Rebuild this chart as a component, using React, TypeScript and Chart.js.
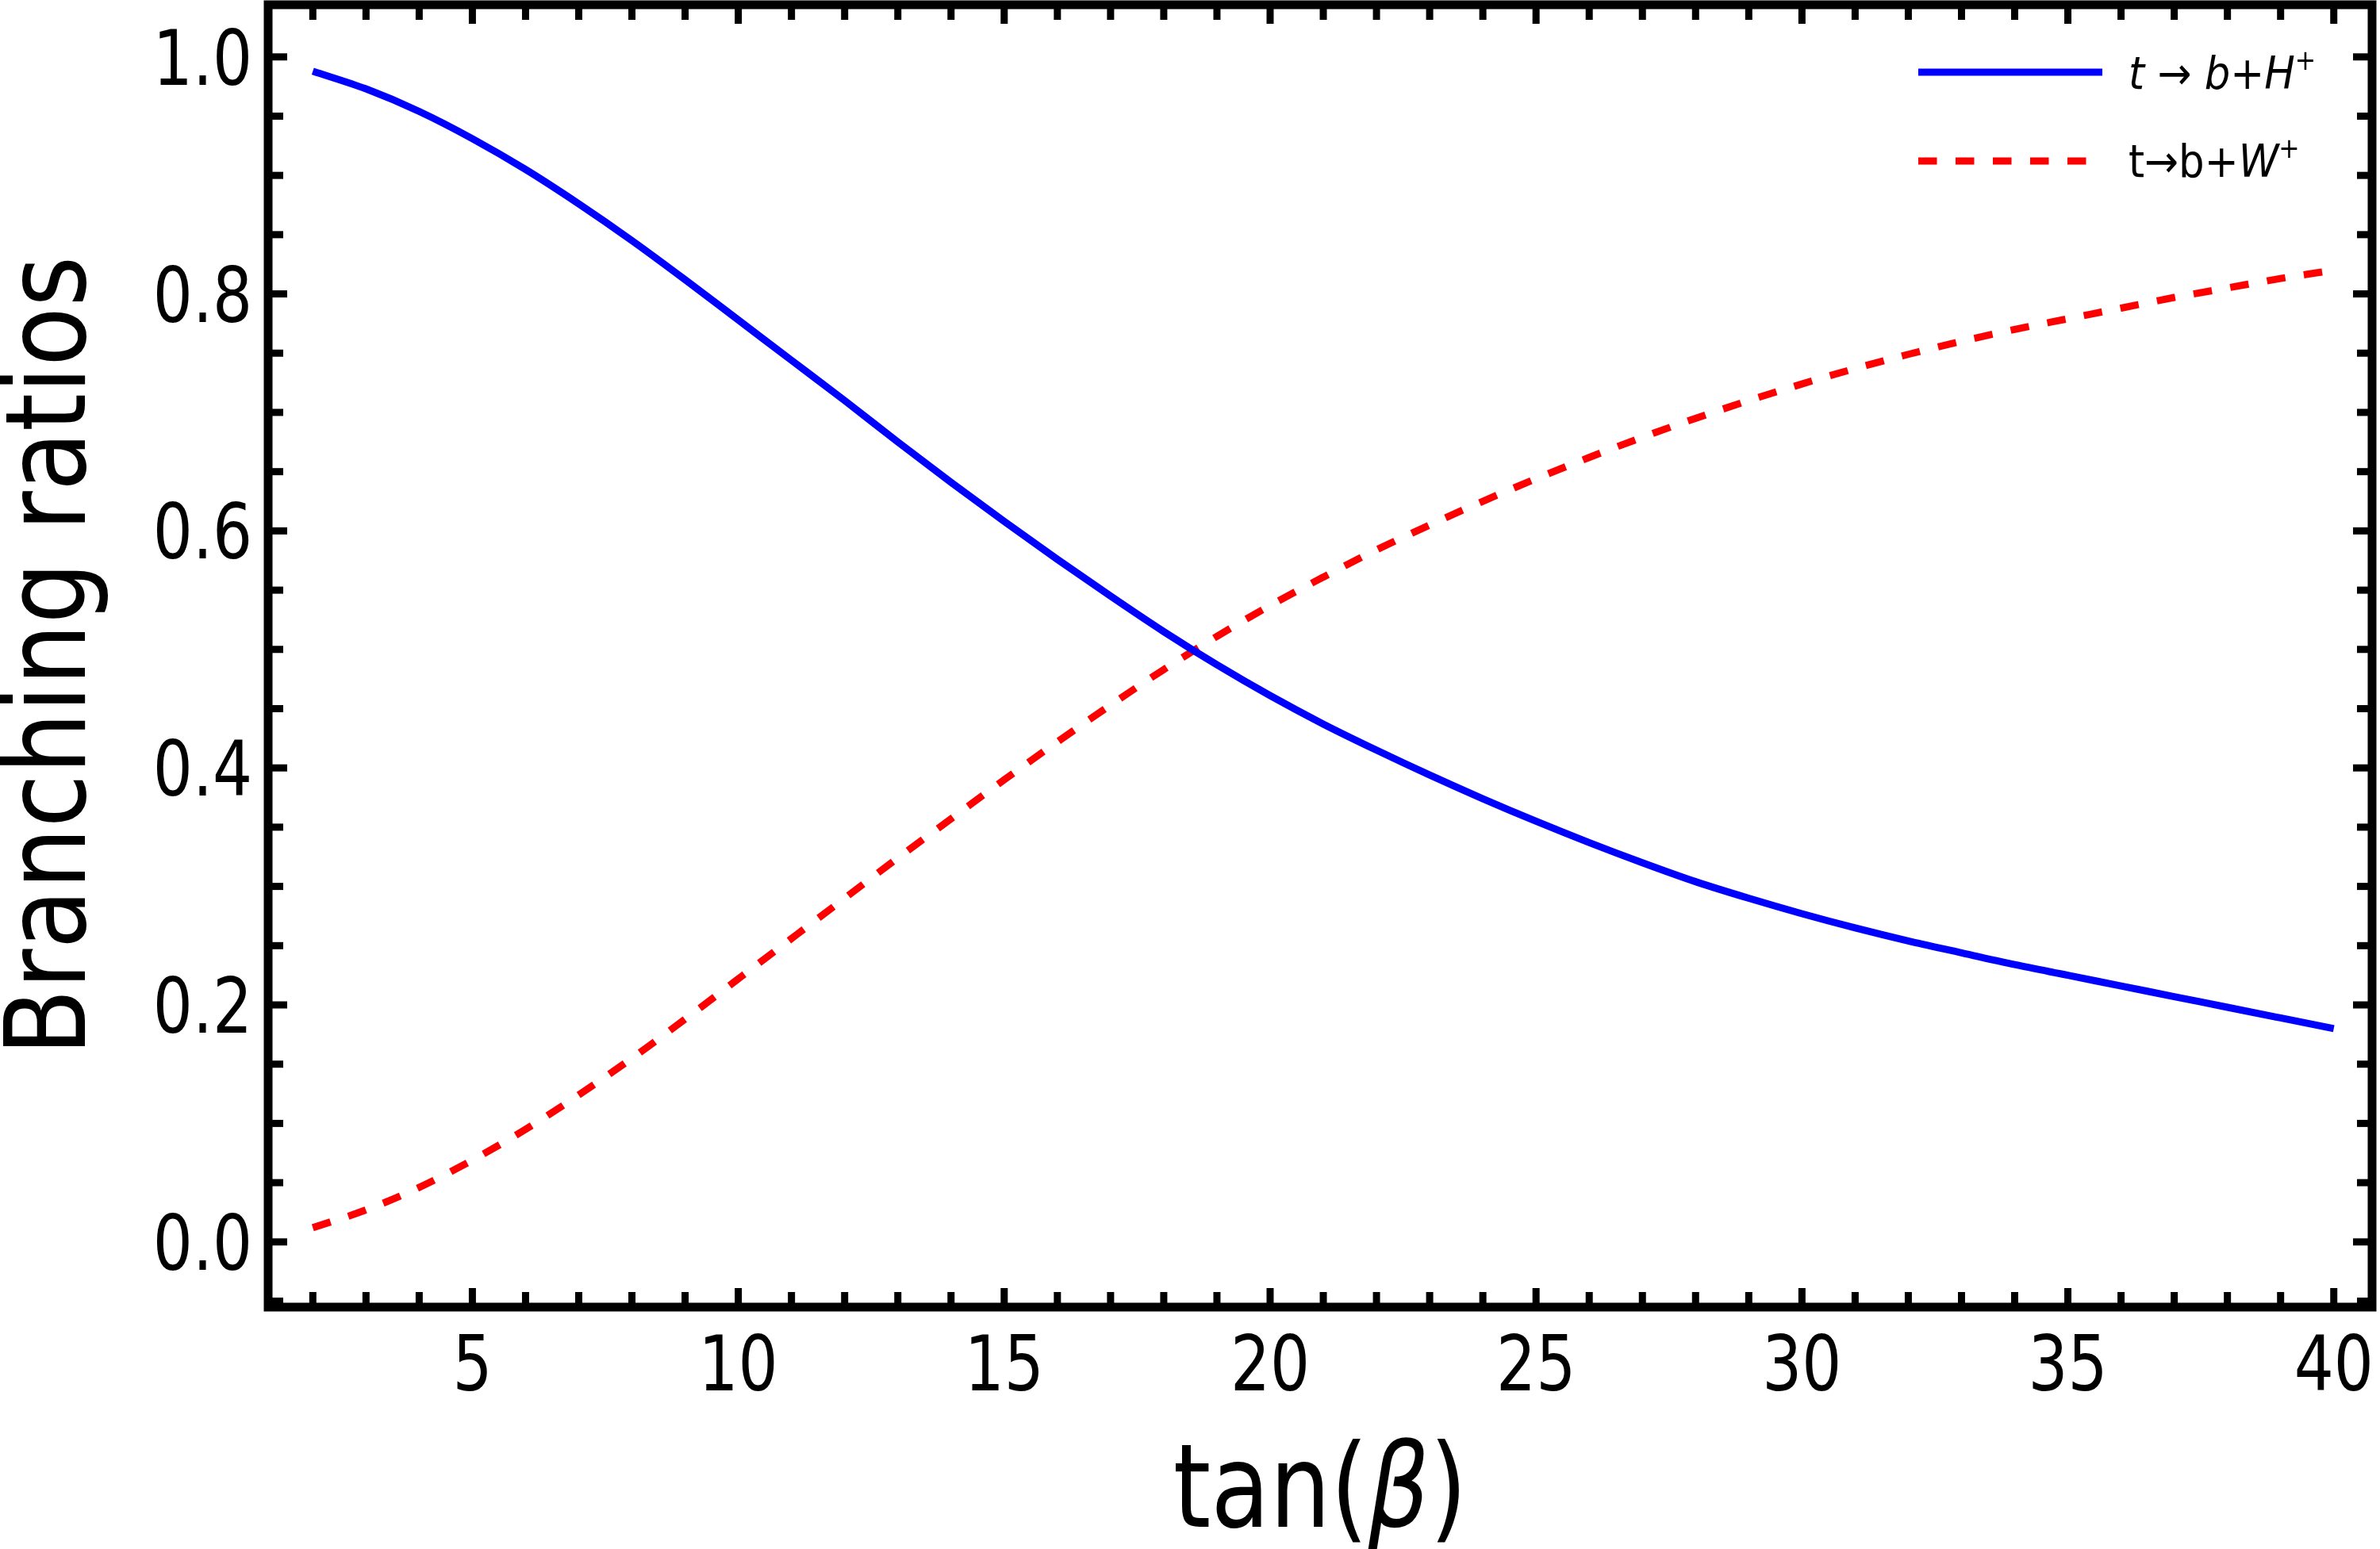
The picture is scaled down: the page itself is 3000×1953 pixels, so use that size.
import { useEffect, useRef } from "react"
import { Chart, registerables } from "chart.js"

Chart.register(...registerables)

// tan(beta) sample points
const tanBeta = [
  2, 3, 4, 5, 6, 7, 8, 9, 10, 11, 12, 13, 14, 15, 16, 17, 18, 19, 20, 21,
  22, 23, 24, 25, 26, 27, 28, 29, 30, 31, 32, 33, 34, 35, 36, 37, 38, 39, 40,
]

// BR(t -> b + H+)
const brHiggs = [
  0.988, 0.973, 0.954, 0.931, 0.905, 0.876, 0.845, 0.812, 0.778, 0.744, 0.71,
  0.675, 0.641, 0.608, 0.576, 0.545, 0.515, 0.487, 0.461, 0.437, 0.415, 0.394,
  0.374, 0.355, 0.337, 0.32, 0.304, 0.29, 0.277, 0.265, 0.254, 0.244, 0.234,
  0.225, 0.216, 0.207, 0.198, 0.189, 0.18,
]

// BR(t -> b + W+)
const brW = [
  0.012, 0.027, 0.046, 0.069, 0.095, 0.124, 0.155, 0.188, 0.222, 0.256, 0.29,
  0.324, 0.357, 0.39, 0.422, 0.453, 0.483, 0.511, 0.537, 0.561, 0.584, 0.605,
  0.625, 0.644, 0.662, 0.679, 0.695, 0.71, 0.724, 0.737, 0.749, 0.76, 0.77,
  0.779, 0.788, 0.797, 0.805, 0.813, 0.82,
]

const xMajorTicks = [5, 10, 15, 20, 25, 30, 35, 40]
const xMinorTicks = [
  2, 3, 4, 6, 7, 8, 9, 11, 12, 13, 14, 16, 17, 18, 19, 21, 22, 23, 24, 26, 27,
  28, 29, 31, 32, 33, 34, 36, 37, 38, 39,
]
const yMajorTicks = [0, 0.2, 0.4, 0.6, 0.8, 1.0]
const yTickLabels = ["0.0", "0.2", "0.4", "0.6", "0.8", "1.0"]
const yMinorTicks = [
  -0.05, 0.05, 0.1, 0.15, 0.25, 0.3, 0.35, 0.45, 0.5, 0.55, 0.65, 0.7, 0.75,
  0.85, 0.9, 0.95,
]

type Seg = { text: string; italic?: boolean; sup?: boolean }

const seriesLabels = ["t → b+H+", "t→b+W+"]
const legendSegments: Seg[][] = [
  [
    { text: "t", italic: true },
    { text: " → " },
    { text: "b", italic: true },
    { text: "+" },
    { text: "H", italic: true },
    { text: "+", sup: true },
  ],
  [{ text: "t→b+" }, { text: "W", italic: true }, { text: "+", sup: true }],
]
const xTitle: Seg[] = [{ text: "tan(" }, { text: "β", italic: true }, { text: ")" }]
const yTitle = "Branching ratios"

const FONT = '"DejaVu Sans", sans-serif'

function drawSegments(
  ctx: CanvasRenderingContext2D,
  segs: Seg[],
  x: number,
  y: number,
  size: number,
  sx: number,
  align: "left" | "center"
) {
  const fontOf = (s: Seg) =>
    `${s.italic ? "italic " : ""}${s.sup ? Math.round(size * 0.62) : size}px ${FONT}`
  ctx.save()
  ctx.translate(x, y)
  ctx.scale(sx, 1)
  ctx.textAlign = "left"
  ctx.textBaseline = "alphabetic"
  const widths = segs.map((s) => {
    ctx.font = fontOf(s)
    return ctx.measureText(s.text).width
  })
  const total = widths.reduce((a, b) => a + b, 0)
  let cx = align === "center" ? -total / 2 : 0
  segs.forEach((s, i) => {
    ctx.font = fontOf(s)
    ctx.fillText(s.text, cx, s.sup ? -size * 0.42 : 0)
    cx += widths[i]
  })
  ctx.restore()
}

const framePlugin = {
  id: "frameTicksText",
  afterDraw(chart: Chart) {
    const { ctx, chartArea: a } = chart
    const xs = chart.scales.x
    const ys = chart.scales.y
    ctx.save()
    ctx.strokeStyle = "#000"
    ctx.fillStyle = "#000"
    ctx.lineCap = "butt"

    const seg = (x1: number, y1: number, x2: number, y2: number) => {
      ctx.beginPath()
      ctx.moveTo(x1, y1)
      ctx.lineTo(x2, y2)
      ctx.stroke()
    }

    // inward ticks on all four sides
    ctx.lineWidth = 9
    const xTick = (v: number, len: number) => {
      const px = xs.getPixelForValue(v)
      seg(px, a.bottom, px, a.bottom - len)
      seg(px, a.top, px, a.top + len)
    }
    const yTick = (v: number, len: number) => {
      const py = ys.getPixelForValue(v)
      seg(a.left, py, a.left + len, py)
      seg(a.right, py, a.right - len, py)
    }
    xMajorTicks.forEach((v) => xTick(v, 24))
    xMinorTicks.forEach((v) => xTick(v, 19))
    yMajorTicks.forEach((v) => yTick(v, 24))
    yMinorTicks.forEach((v) => yTick(v, 19))

    // frame
    ctx.lineWidth = 11
    ctx.strokeRect(a.left, a.top, a.right - a.left, a.bottom - a.top)

    // tick labels (narrow lettering as in the original)
    const tickSize = 96
    ctx.font = `${tickSize}px ${FONT}`
    ctx.textBaseline = "alphabetic"
    yMajorTicks.forEach((v, i) => {
      const py = ys.getPixelForValue(v)
      ctx.save()
      ctx.translate(a.left - 20, py + tickSize * 0.365)
      ctx.scale(0.82, 1)
      ctx.textAlign = "right"
      ctx.fillText(yTickLabels[i], 0, 0)
      ctx.restore()
    })
    xMajorTicks.forEach((v) => {
      const px = xs.getPixelForValue(v)
      ctx.save()
      ctx.translate(px, a.bottom + 105)
      ctx.scale(0.82, 1)
      ctx.textAlign = "center"
      ctx.fillText(String(v), 0, 0)
      ctx.restore()
    })

    // axis titles
    drawSegments(ctx, xTitle, (a.left + a.right) / 2, 1925, 146, 0.83, "center")
    ctx.save()
    ctx.translate(107, (a.top + a.bottom) / 2)
    ctx.rotate(-Math.PI / 2)
    ctx.scale(0.87, 1)
    ctx.font = `141px ${FONT}`
    ctx.textAlign = "center"
    ctx.textBaseline = "alphabetic"
    ctx.fillText(yTitle, 0, 0)
    ctx.restore()

    // legend
    const rows = [
      { lineY: 91, textY: 112 },
      { lineY: 203, textY: 223 },
    ]
    chart.data.datasets.forEach((ds: any, i: number) => {
      const r = rows[i]
      ctx.save()
      ctx.strokeStyle = ds.borderColor
      ctx.lineWidth = ds.borderWidth
      ctx.setLineDash(ds.borderDash || [])
      seg(2418, r.lineY, 2650, r.lineY)
      ctx.restore()
      drawSegments(ctx, legendSegments[i], 2683, r.textY, 57, 0.9, "left")
    })
    ctx.restore()
  },
}

export default function App() {
  const canvasRef = useRef<HTMLCanvasElement>(null)
  const chartRef = useRef<Chart>()

  useEffect(() => {
    document.body.style.margin = "0"
    if (!canvasRef.current) return
    if (chartRef.current) chartRef.current.destroy()

    chartRef.current = new Chart(canvasRef.current, {
      type: "line",
      data: {
        datasets: [
          {
            label: seriesLabels[0],
            data: tanBeta.map((x, i) => ({ x, y: brHiggs[i] })),
            borderColor: "rgb(0, 0, 255)",
            borderWidth: 9,
            pointRadius: 0,
            cubicInterpolationMode: "monotone",
          },
          {
            label: seriesLabels[1],
            data: tanBeta.map((x, i) => ({ x, y: brW[i] })),
            borderColor: "rgb(255, 0, 0)",
            borderWidth: 9,
            borderDash: [23.5, 23.5],
            pointRadius: 0,
            cubicInterpolationMode: "monotone",
          },
        ],
      },
      options: {
        animation: false,
        responsive: false,
        devicePixelRatio: 1,
        events: [],
        layout: { padding: { top: 6, right: 10, bottom: 0, left: 0 } },
        scales: {
          x: {
            type: "linear",
            min: 1.16,
            max: 40.72,
            grid: { display: false },
            border: { display: false },
            ticks: { display: false },
            afterFit: (s: any) => {
              s.height = 305
            },
          },
          y: {
            type: "linear",
            min: -0.055,
            max: 1.044,
            grid: { display: false },
            border: { display: false },
            ticks: { display: false },
            afterFit: (s: any) => {
              s.width = 338
            },
          },
        },
        plugins: {
          legend: { display: false },
          tooltip: { enabled: false },
        },
      },
      plugins: [framePlugin],
    } as any)

    return () => {
      if (chartRef.current) {
        chartRef.current.destroy()
        chartRef.current = undefined
      }
    }
  }, [])

  return (
    <div style={{ width: 3000, height: 1953, background: "#fff" }}>
      <canvas ref={canvasRef} width={3000} height={1953} />
    </div>
  )
}
